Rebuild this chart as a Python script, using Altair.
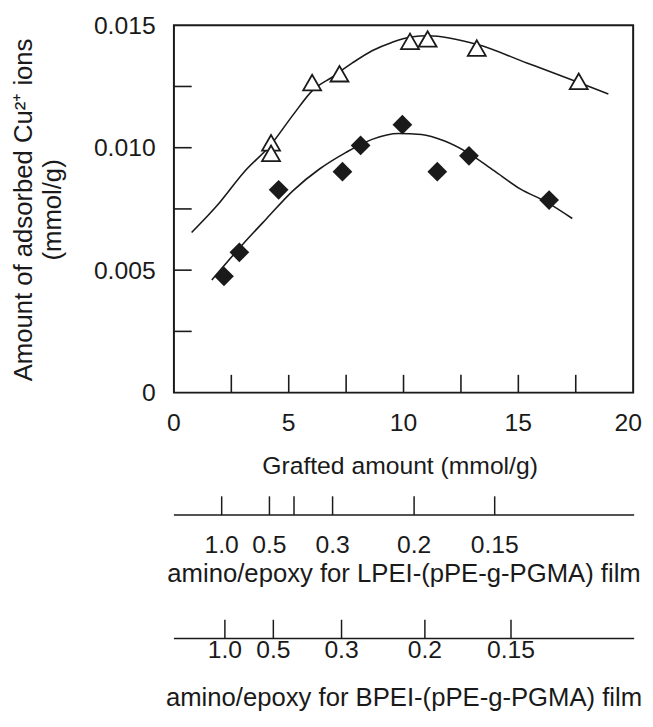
import altair as alt
import pandas as pd

# ---- data ----
# open triangles
tri_x = [4.23, 4.23, 6.02, 7.21, 10.28, 11.05, 13.19, 17.63]
tri_y = [0.01020, 0.00977, 0.01266, 0.01302, 0.01434, 0.01444, 0.01407, 0.01271]
# filled diamonds
dia_x = [2.18, 2.85, 4.56, 7.34, 8.13, 9.95, 11.47, 12.85, 16.34]
dia_y = [0.00475, 0.00573, 0.00828, 0.00902, 0.01009, 0.01094, 0.00902, 0.00967, 0.00786]
# fitted curves (traced)
up_x = [0.77, 1.89, 3.04, 4.23, 5.19, 6.05, 6.91, 7.77, 8.63, 9.49, 10.32, 11.07, 13.22, 15.37, 17.66, 18.92]
up_y = [0.00654, 0.00765, 0.00899, 0.01013, 0.01134, 0.01235, 0.01289, 0.01346, 0.01396, 0.01430,
        0.01452, 0.01457, 0.01421, 0.01346, 0.01265, 0.01219]
lo_x = [1.65, 3.04, 4.04, 5.19, 6.34, 7.48, 8.63, 9.78, 10.78, 11.79, 12.79, 13.94, 15.08, 16.23, 17.35]
lo_y = [0.00460, 0.00610, 0.00711, 0.00825, 0.00913, 0.00980, 0.01034, 0.01058, 0.01054, 0.01027,
        0.00980, 0.00906, 0.00832, 0.00778, 0.00711]
# axis ticks
x_minor = [2.5, 5, 7.5, 10, 12.5, 15, 17.5]
y_minor = [0.0025, 0.005, 0.0075, 0.010, 0.0125]
x_labels = [0, 5, 10, 15]
x_last = [20]
y_labels = [0, 0.005, 0.010, 0.015]
# secondary amino/epoxy scales (positions in grafted amount)
lpei_pos = [2.08, 4.16, 5.23, 6.91, 10.46, 13.97]
lpei_lab = ["1.0", "0.5", "", "0.3", "0.2", "0.15"]
bpei_pos = [2.22, 4.33, 7.30, 10.93, 14.68]
bpei_lab = ["1.0", "0.5", "0.3", "0.2", "0.15"]

INK = "#1a1a1a"
FONT = "Liberation Sans"
FS = 25
TFS = 26
W, H = 465, 372

xs = alt.Scale(domain=[0, 20], nice=False, zero=False)
ys = alt.Scale(domain=[0, 0.015], nice=False, zero=False)

tri = pd.DataFrame({"x": tri_x, "y": tri_y})
dia = pd.DataFrame({"x": dia_x, "y": dia_y})
up = pd.DataFrame({"x": up_x, "y": up_y})
lo = pd.DataFrame({"x": lo_x, "y": lo_y})
xm = pd.DataFrame({"x": x_minor})
ym = pd.DataFrame({"y": y_minor})
xl = pd.DataFrame({"x": x_labels, "t": [str(v) for v in x_labels]})
xl2 = pd.DataFrame({"x": x_last, "t": [str(v) for v in x_last]})
lp = pd.DataFrame({"x": lpei_pos, "t": lpei_lab})
bp = pd.DataFrame({"x": bpei_pos, "t": bpei_lab})
one = pd.DataFrame({"a": [0]})

X = alt.X("x:Q", scale=xs, axis=None)
Y = alt.Y("y:Q", scale=ys,
          axis=alt.Axis(values=y_labels, title=None, ticks=False, tickSize=0, grid=False, domain=False,
                        labelPadding=19, labelFontSize=FS, labelFont=FONT, labelColor=INK,
                        labelFlush=False, labelOverlap=False,
                        labelExpr="datum.value == 0 ? '0' : format(datum.value, '.3f')"))

# plot frame (box)
frame = alt.Chart(one).mark_rect(filled=False, stroke=INK, strokeWidth=2, fillOpacity=0).encode(
    x=alt.value(0), x2=alt.value(W), y=alt.value(0), y2=alt.value(H))

curve_up = alt.Chart(up).mark_line(color=INK, strokeWidth=1.6, interpolate="monotone").encode(x=X, y=Y)
curve_lo = alt.Chart(lo).mark_line(color=INK, strokeWidth=1.6, interpolate="monotone").encode(
    x=alt.X("x:Q", scale=xs), y=alt.Y("y:Q", scale=ys))
pts_tri = alt.Chart(tri).mark_point(shape="triangle-up", size=330, filled=True, fill="white",
                                    stroke=INK, strokeWidth=1.8, opacity=1).encode(
    x=alt.X("x:Q", scale=xs), y=alt.Y("y:Q", scale=ys))
pts_dia = alt.Chart(dia).mark_point(shape="diamond", size=400, filled=True, color=INK, opacity=1).encode(
    x=alt.X("x:Q", scale=xs), y=alt.Y("y:Q", scale=ys))

xt = alt.Chart(xm).mark_rule(color=INK, strokeWidth=1.6).encode(
    x=alt.X("x:Q", scale=xs), y=alt.value(H), y2=alt.value(H - 18))
yt = alt.Chart(ym).mark_rule(color=INK, strokeWidth=1.6).encode(
    y=alt.Y("y:Q", scale=ys), x=alt.value(0), x2=alt.value(18))

# x tick labels
xlab = alt.Chart(xl).mark_text(font=FONT, fontSize=FS, color=INK, align="center",
                               baseline="alphabetic").encode(
    x=alt.X("x:Q", scale=xs), y=alt.value(411), text="t:N")
xlab2 = alt.Chart(xl2).mark_text(font=FONT, fontSize=FS, color=INK, align="right",
                                 baseline="alphabetic", dx=9).encode(
    x=alt.X("x:Q", scale=xs), y=alt.value(411), text="t:N")

def sec_axis(df, line_y, label_y, title, title_y):
    line = alt.Chart(one).mark_rule(color=INK, strokeWidth=1.5).encode(
        x=alt.value(0), x2=alt.value(W + 1), y=alt.value(line_y))
    ticks = alt.Chart(df).mark_rule(color=INK, strokeWidth=1.5).encode(
        x=alt.X("x:Q", scale=xs), y=alt.value(line_y - 19), y2=alt.value(line_y))
    labels = alt.Chart(df).mark_text(font=FONT, fontSize=FS, color=INK, align="center",
                                      baseline="alphabetic").encode(
        x=alt.X("x:Q", scale=xs), y=alt.value(label_y), text="t:N")
    ttl = alt.Chart(pd.DataFrame({"t": [title]})).mark_text(
        font=FONT, fontSize=TFS, color=INK, align="center", baseline="alphabetic").encode(
        x=alt.value(233), y=alt.value(title_y), text="t:N")
    return [line, ticks, labels, ttl]

xtitle = alt.Chart(pd.DataFrame({"t": ["Grafted amount (mmol/g)"]})).mark_text(
    font=FONT, fontSize=FS, color=INK, align="center", baseline="alphabetic").encode(
    x=alt.value(229), y=alt.value(454), text="t:N")
ytitle1 = alt.Chart(pd.DataFrame({"t": ["Amount of adsorbed Cu²⁺ ions"]})).mark_text(
    font=FONT, fontSize=TFS, color=INK, align="center", baseline="alphabetic", angle=270).encode(
    x=alt.value(-144), y=alt.value(187), text="t:N")
ytitle2 = alt.Chart(pd.DataFrame({"t": ["(mmol/g)"]})).mark_text(
    font=FONT, fontSize=TFS, color=INK, align="center", baseline="alphabetic", angle=270).encode(
    x=alt.value(-114), y=alt.value(187), text="t:N")

layers = [frame, curve_up, curve_lo, pts_tri, pts_dia, xt, yt, xlab, xlab2, xtitle, ytitle1, ytitle2]
layers += sec_axis(lp, 496, 534, "amino/epoxy for LPEI-(pPE-g-PGMA) film", 564)
layers += sec_axis(bp, 621, 641, "amino/epoxy for BPEI-(pPE-g-PGMA) film", 689)

chart = alt.layer(*layers).properties(
    width=W, height=H,
    autosize=alt.AutoSizeParams(type="none"),
    padding={"left": 168, "top": 13, "right": 12, "bottom": 324},
).configure_view(strokeWidth=0).configure(background="white")

chart.save("out.html", embed_options={"renderer": "svg", "actions": False})
